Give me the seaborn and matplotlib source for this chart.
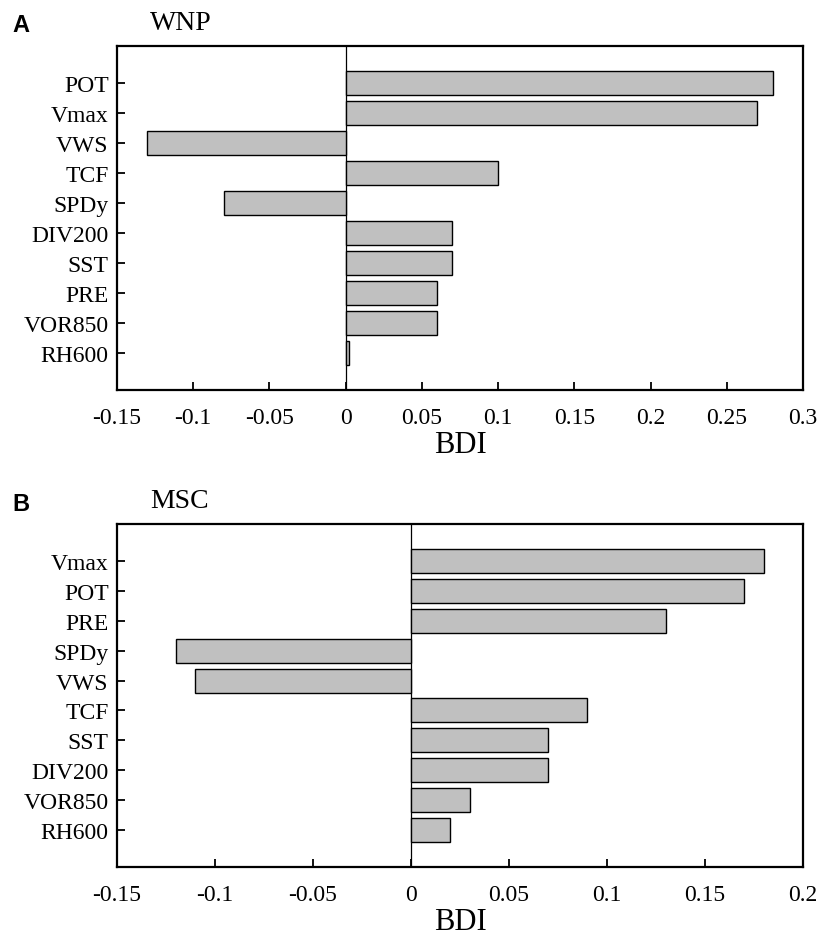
import matplotlib
matplotlib.use("Agg")
import matplotlib.pyplot as plt
import seaborn as sns
import pandas as pd

# Panel A (WNP)
wnp_vars = ["POT", "Vmax", "VWS", "TCF", "SPDy", "DIV200", "SST", "PRE", "VOR850", "RH600"]
wnp_bdi = [0.28, 0.27, -0.13, 0.10, -0.08, 0.07, 0.07, 0.06, 0.06, 0.002]
wnp_ticks = [-0.15, -0.1, -0.05, 0, 0.05, 0.1, 0.15, 0.2, 0.25, 0.3]
wnp_ticklabels = ["-0.15", "-0.1", "-0.05", "0", "0.05", "0.1", "0.15", "0.2", "0.25", "0.3"]

# Panel B (MSC)
msc_vars = ["Vmax", "POT", "PRE", "SPDy", "VWS", "TCF", "SST", "DIV200", "VOR850", "RH600"]
msc_bdi = [0.18, 0.17, 0.13, -0.12, -0.11, 0.09, 0.07, 0.07, 0.03, 0.02]
msc_ticks = [-0.15, -0.1, -0.05, 0, 0.05, 0.1, 0.15, 0.2]
msc_ticklabels = ["-0.15", "-0.1", "-0.05", "0", "0.05", "0.1", "0.15", "0.2"]

sns.set_theme(style="white")
plt.rcParams['font.family'] = ['Liberation Serif', 'DejaVu Serif']
plt.rcParams['text.color'] = 'black'
plt.rcParams['axes.labelcolor'] = 'black'

W, H = 818, 937
fig = plt.figure(figsize=(W / 100, H / 100), dpi=100)

def px_axes(left, top, right, bottom):
    return fig.add_axes([left / W, 1 - bottom / H, (right - left) / W, (bottom - top) / H])

def panel(ax, cats, vals, ticks, ticklabels, xlim):
    df = pd.DataFrame({"var": cats, "bdi": vals})
    sns.barplot(data=df, x="bdi", y="var", orient="h", color="#c0c0c0",
                saturation=1, edgecolor="black", linewidth=1.0, width=0.8, ax=ax)
    ax.set_xlim(*xlim)
    ax.set_ylim(10.22, -1.22)
    ax.axvline(0, color="black", linewidth=0.9, zorder=0.5)
    ax.set_xticks(ticks)
    ax.set_xticklabels(ticklabels)
    ax.tick_params(axis="both", direction="in", length=5.5, width=1.3,
                   labelsize=17, colors="black", bottom=True, left=True)
    ax.tick_params(axis="x", pad=12.5)
    ax.tick_params(axis="y", pad=6)
    ax.set_ylabel("")
    ax.set_xlabel("BDI", fontsize=22, labelpad=1.5)
    for s in ax.spines.values():
        s.set_linewidth(1.6)
        s.set_color("black")
    ax.grid(False)

axA = px_axes(117, 47, 803, 391)
panel(axA, wnp_vars, wnp_bdi, wnp_ticks, wnp_ticklabels, (-0.15, 0.3))
axB = px_axes(117, 525, 803, 868)
panel(axB, msc_vars, msc_bdi, msc_ticks, msc_ticklabels, (-0.15, 0.2))

fig.text(12 / W, 1 - 25 / H, "A", fontsize=17, fontweight="bold",
         family=["Liberation Sans", "DejaVu Sans"], va="center", ha="left")
fig.text(150 / W, 1 - 24 / H, "WNP", fontsize=20, va="center", ha="left")
fig.text(12 / W, 1 - 505 / H, "B", fontsize=17, fontweight="bold",
         family=["Liberation Sans", "DejaVu Sans"], va="center", ha="left")
fig.text(150 / W, 1 - 502 / H, "MSC", fontsize=20, va="center", ha="left")

fig.savefig("out.png", dpi=100, facecolor="white")
